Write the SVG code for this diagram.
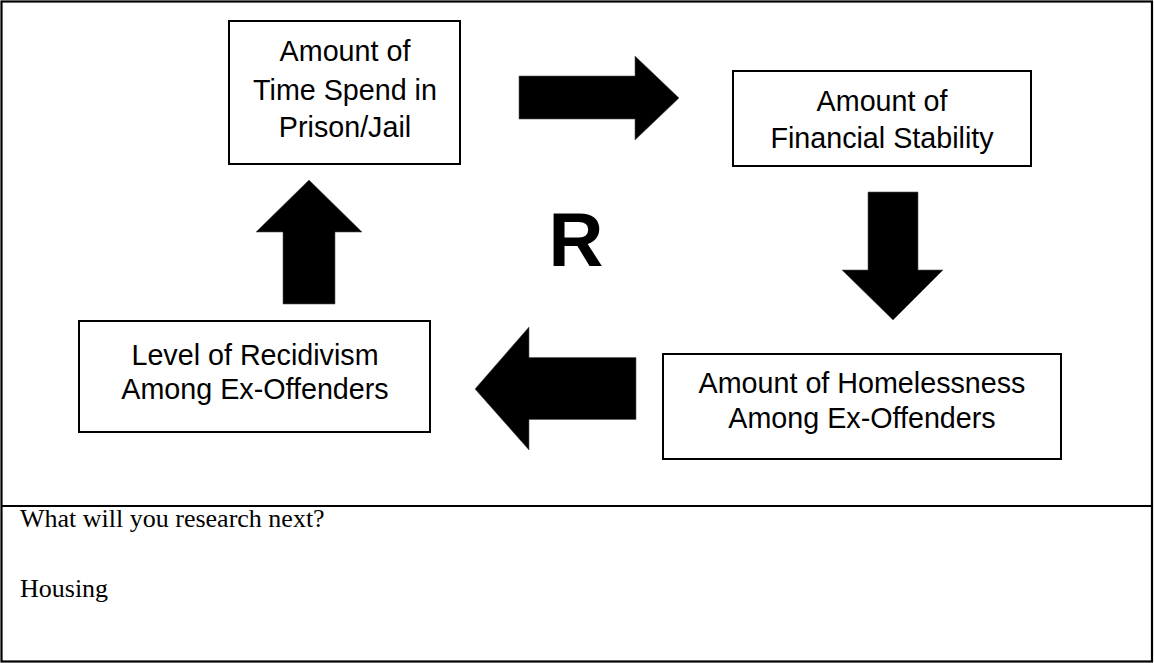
<svg xmlns="http://www.w3.org/2000/svg" width="1154" height="663" viewBox="0 0 1154 663">
<style>
.frame{fill:none;stroke:#000;stroke-width:2.2}
.box{fill:#fff;stroke:#000;stroke-width:2}
.lbl{font-family:"Liberation Sans",Arial,sans-serif;font-size:28.7px;fill:#000;text-anchor:middle}
.arr{fill:#000;stroke:#555;stroke-width:0.6}
.note{font-family:"Liberation Serif","Times New Roman",serif;font-size:26px;fill:#000}
</style>
<rect width="1154" height="663" fill="#fff"/>
<g id="frame">
<rect class="frame" x="1.5" y="1.5" width="1150.5" height="660"/>
<line class="frame" x1="1.5" y1="506" x2="1152" y2="506"/>
</g>
<g id="node-time">
<rect class="box" x="229" y="21" width="231" height="143"/>
<text class="lbl" x="345" y="61">Amount of</text>
<text class="lbl" x="345" y="100">Time Spend in</text>
<text class="lbl" x="345" y="137">Prison/Jail</text>
</g>
<g id="node-financial">
<rect class="box" x="733" y="71" width="298" height="95"/>
<text class="lbl" x="882" y="111">Amount of</text>
<text class="lbl" x="882" y="148">Financial Stability</text>
</g>
<g id="node-homeless">
<rect class="box" x="663" y="354" width="398" height="105"/>
<text class="lbl" x="862" y="393">Amount of Homelessness</text>
<text class="lbl" x="862" y="428">Among Ex-Offenders</text>
</g>
<g id="node-recidivism">
<rect class="box" x="79" y="321" width="351" height="111"/>
<text class="lbl" x="255" y="365">Level of Recidivism</text>
<text class="lbl" x="255" y="399">Among Ex-Offenders</text>
</g>
<g id="connectors">
<polygon class="arr" points="519,76 635,76 635,56 679,98 635,140 635,119 519,119"/>
<polygon class="arr" points="868,192 918,192 918,270 943,270 893,320 842,270 868,270"/>
<polygon class="arr" points="475,389 529,327 529,357.5 636,357.5 636,419.5 529,419.5 529,450"/>
<polygon class="arr" points="309,180 362,232 335,232 335,304 283,304 283,232 256,232"/>
</g>
<g id="loop-label">
<text x="576" y="266" font-family="'Liberation Sans',Arial,sans-serif" font-size="76" font-weight="bold" text-anchor="middle">R</text>
</g>
<g id="notes">
<text class="note" x="20" y="527">What will you research next?</text>
<text class="note" x="20" y="597">Housing</text>
</g>
</svg>
